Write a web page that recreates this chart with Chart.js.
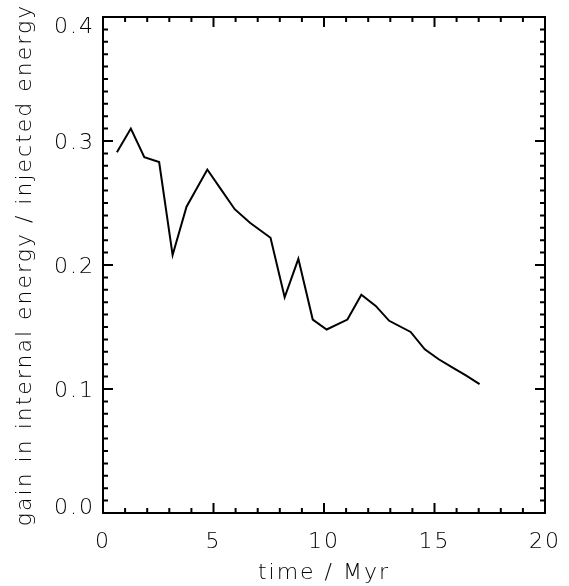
<!DOCTYPE html>
<html>
<head>
<meta charset="utf-8">
<script src="https://cdn.jsdelivr.net/npm/chart.js@4"></script>
<style>
  body { margin: 0; background: #fff; }
</style>
</head>
<body>
<canvas id="chart" width="569" height="586"></canvas>
<script>
var time = [0.63, 1.26, 1.87, 2.54, 3.15, 3.78, 4.72, 5.30, 5.96, 6.65, 7.58, 8.22, 8.84,
            9.49, 10.12, 11.06, 11.69, 12.34, 12.95, 13.92, 14.56, 15.19, 15.84, 16.42, 17.04];
var gain = [0.291, 0.310, 0.287, 0.283, 0.208, 0.247, 0.277, 0.262, 0.245, 0.234, 0.222, 0.174, 0.205,
            0.156, 0.148, 0.156, 0.176, 0.167, 0.155, 0.146, 0.132, 0.124, 0.117, 0.111, 0.104];
var xTicks = [0, 5, 10, 15, 20];
var yTicks = [0.0, 0.1, 0.2, 0.3, 0.4];

var points = time.map(function (t, i) { return {x: t, y: gain[i]}; });

var font = {family: 'DejaVu Sans', size: 22, weight: 200};

// wider spacing, closer to the IDL vector font
var spacing = {
    id: 'spacing',
    beforeDraw: function (chart) { chart.ctx.letterSpacing = '2px'; },
    beforeLayout: function (chart) { chart.ctx.letterSpacing = '2px'; }
};

// frame with inward ticks on all four sides, like the IDL plot
var frameTicks = {
    id: 'frameTicks',
    afterDraw: function (chart) {
        var c = chart.ctx, a = chart.chartArea;
        var xs = chart.scales.x, ys = chart.scales.y;
        c.save();
        c.strokeStyle = '#000';
        c.lineWidth = 2;
        c.strokeRect(a.left, a.top, a.right - a.left, a.bottom - a.top);
        c.beginPath();
        for (var i = 0; i <= 20; i++) {
            var px = xs.getPixelForValue(i);
            var len = i % 5 === 0 ? 10 : 5;
            c.moveTo(px, a.bottom); c.lineTo(px, a.bottom - len);
            c.moveTo(px, a.top); c.lineTo(px, a.top + len);
        }
        for (var j = 0; j <= 40; j++) {
            var py = ys.getPixelForValue(j / 100);
            var l = j % 10 === 0 ? 10 : 5;
            c.moveTo(a.left, py); c.lineTo(a.left + l, py);
            c.moveTo(a.right, py); c.lineTo(a.right - l, py);
        }
        c.stroke();

        // y labels: IDL nudges the end labels inside the frame
        c.fillStyle = '#000';
        c.font = '200 22px "DejaVu Sans"';
        c.textAlign = 'right';
        c.textBaseline = 'middle';
        yTicks.forEach(function (v, k) {
            var py = ys.getPixelForValue(v) + 2;
            if (k === yTicks.length - 1) py += 8;
            if (k === 0) py -= 7;
            c.fillText(v.toFixed(1), a.left - 8, py);
        });
        c.restore();
    }
};

new Chart(document.getElementById('chart'), {
    type: 'line',
    data: {
        datasets: [{
            data: points,
            borderColor: '#000',
            borderWidth: 2,
            pointRadius: 0,
            tension: 0,
            fill: false
        }]
    },
    options: {
        responsive: false,
        animation: false,
        layout: {padding: {top: 17, right: 22, left: 0, bottom: 0}},
        plugins: {legend: {display: false}, tooltip: {enabled: false}},
        scales: {
            x: {
                type: 'linear',
                min: 0, max: 20,
                afterBuildTicks: function (s) { s.ticks = xTicks.map(function (v) { return {value: v}; }); },
                afterFit: function (s) { s.height = 73; },
                grid: {display: false},
                border: {display: false},
                ticks: {color: '#000', font: font, padding: 8, maxRotation: 0,
                        callback: function (v) { return String(v); }},
                title: {display: true, text: 'time / Myr', color: '#000', font: font,
                        padding: {top: 0, bottom: 0}}
            },
            y: {
                min: 0, max: 0.4,
                afterBuildTicks: function (s) { s.ticks = yTicks.map(function (v) { return {value: v}; }); },
                afterFit: function (s) { s.width = 103; },
                grid: {display: false},
                border: {display: false},
                ticks: {display: false},
                title: {display: true, text: 'gain in internal energy / injected energy', color: '#000', font: font,
                        padding: {top: 12, bottom: 0}}
            }
        }
    },
    plugins: [spacing, frameTicks]
});
</script>
</body>
</html>
